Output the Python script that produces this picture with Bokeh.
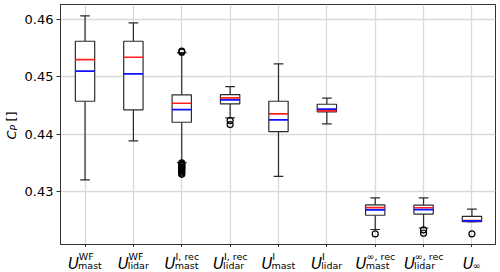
import math
from bokeh.plotting import figure
from bokeh.models import Range1d, FixedTicker
from bokeh.layouts import row, column
from bokeh.core.properties import value
from bokeh.embed import file_html
from bokeh.resources import INLINE

# ---------------- data ----------------
positions = [1, 2, 3, 4, 5, 6, 7, 8, 9]
sup_labels = ["WF", "WF", "I, rec", "I, rec", "I", "I", "∞, rec", "∞, rec", ""]
sub_labels = ["mast", "lidar", "mast", "lidar", "mast", "lidar", "mast", "lidar", "∞"]

whisker_hi = [0.46065, 0.45942, 0.45424, 0.44831, 0.45227, 0.44627, 0.42888, 0.42888, 0.42693]
q3 = [0.45621, 0.45621, 0.44686, 0.44691, 0.44574, 0.44522, 0.42766, 0.42763, 0.42567]
red_vals = [0.45302, 0.45342, 0.44539, 0.44634, 0.44354, 0.44407, 0.42719, 0.42716, 0.42492]
blue_vals = [0.45098, 0.45052, 0.44429, 0.44599, 0.44250, 0.44435, 0.42679, 0.42684, 0.42487]
q1 = [0.44574, 0.44424, 0.44208, 0.44529, 0.44045, 0.44389, 0.42585, 0.42606, 0.42475]
whisker_lo = [0.43202, 0.43883, 0.43504, 0.44284, 0.43265, 0.44180, 0.42337, 0.42363, 0.42475]

outliers = [
    [],
    [],
    [0.4543, 0.4545, 0.4350, 0.4348, 0.4347, 0.4345, 0.4343, 0.4342, 0.4340,
     0.4338, 0.4336, 0.4334, 0.4332, 0.4330],
    [0.44237, 0.44168],
    [],
    [],
    [0.42260],
    [0.42330, 0.42271],
    [0.42260],
]

y_ticks = [0.43, 0.44, 0.45, 0.46]
y_label_parts = ["C", "P", "[]"]

# ---------------- layout geometry (page pixels; Bokeh page has no body margin) ----------------
PAGE_W, PAGE_H = 500, 272
FRAME_L, FRAME_R = 57, 495
FRAME_T, FRAME_B = 4, 244
X_TICK = 3
STRIP_W = 21
MAIN_W = PAGE_W - STRIP_W
MAIN_H = FRAME_B + X_TICK
BOT_H = PAGE_H - MAIN_H
PX_PER_X = 48.7
X0 = 0.493

x_range = Range1d(X0, X0 + (FRAME_R - FRAME_L) / PX_PER_X)
y_range = Range1d(0.42075, 0.46262)

# ---------------- main figure ----------------
p = figure(width=MAIN_W, height=MAIN_H, output_backend="svg", toolbar_location=None,
           min_border_left=FRAME_L - STRIP_W, min_border_right=PAGE_W - FRAME_R,
           min_border_top=FRAME_T, min_border_bottom=X_TICK,
           x_range=x_range, y_range=y_range)

p.outline_line_color = "#333333"
p.outline_line_width = 1
p.background_fill_color = "white"
p.border_fill_color = "white"

for ax in (p.xaxis, p.yaxis):
    ax.axis_line_color = "#333333"
    ax.major_tick_line_color = "#333333"
    ax.major_tick_in = 0
    ax.minor_tick_line_color = None
p.yaxis.major_tick_out = 4
p.xaxis.major_tick_out = X_TICK

p.yaxis.ticker = FixedTicker(ticks=y_ticks)
p.yaxis.major_label_text_font = "DejaVu Sans"
p.yaxis.major_label_text_font_size = "13px"
p.yaxis.major_label_text_color = "black"
p.yaxis.major_label_standoff = 3
p.yaxis.major_label_overrides = {t: f"{t:.2f}" for t in y_ticks}

p.xaxis.ticker = FixedTicker(ticks=positions)
p.xaxis.major_label_overrides = {i: "" for i in positions}
p.xaxis.major_label_text_font_size = "0px"
p.xaxis.major_label_standoff = 0

p.grid.grid_line_color = "#d9d9d9"
p.grid.grid_line_width = 1.3
p.xgrid.ticker = FixedTicker(ticks=positions)
p.ygrid.ticker = FixedTicker(ticks=y_ticks)

box_col = "#2b2b2b"
hw = 0.2
cw = 0.1
p.segment(x0=positions, y0=q3, x1=positions, y1=whisker_hi, line_color=box_col, line_width=1.2)
p.segment(x0=positions, y0=q1, x1=positions, y1=whisker_lo, line_color=box_col, line_width=1.2)
p.segment(x0=[x - cw for x in positions], y0=whisker_hi, x1=[x + cw for x in positions],
          y1=whisker_hi, line_color=box_col, line_width=1.2)
p.segment(x0=[x - cw for x in positions], y0=whisker_lo, x1=[x + cw for x in positions],
          y1=whisker_lo, line_color=box_col, line_width=1.2)
p.quad(left=[x - hw for x in positions], right=[x + hw for x in positions], bottom=q1, top=q3,
       fill_color="white", line_color=box_col, line_width=1.2)
p.segment(x0=[x - hw for x in positions], y0=red_vals, x1=[x + hw for x in positions],
          y1=red_vals, line_color="#ff2020", line_width=1.7)
p.segment(x0=[x - hw for x in positions], y0=blue_vals, x1=[x + hw for x in positions],
          y1=blue_vals, line_color="#1010ff", line_width=1.7)

ox, oy = [], []
for x, vals in zip(positions, outliers):
    for v in vals:
        ox.append(x)
        oy.append(v)
p.scatter(ox, oy, marker="circle", size=6, fill_color=None, line_color="black", line_width=1.2)

# ---------------- bottom strip with x labels (U with super/subscripts) ----------------
b = figure(width=MAIN_W, height=BOT_H, output_backend="svg", toolbar_location=None,
           min_border_left=FRAME_L - STRIP_W, min_border_right=PAGE_W - FRAME_R,
           min_border_top=0, min_border_bottom=0,
           x_range=x_range, y_range=Range1d(0, BOT_H))
b.axis.visible = False
b.grid.visible = False
b.outline_line_color = None
b.background_fill_color = "white"
b.border_fill_color = "white"

def bx(px):
    return X0 + (px - FRAME_L) / PX_PER_X

def by(py):
    return PAGE_H - py

cw_table = {"W": 0.989, "F": 0.575, "m": 0.974, "a": 0.613, "s": 0.521, "t": 0.392,
            "l": 0.278, "i": 0.278, "d": 0.635, "r": 0.411, "I": 0.295, ",": 0.318,
            " ": 0.318, "e": 0.615, "c": 0.550, "∞": 0.833}

def tw(s, size):
    return sum(cw_table.get(ch, 0.6) for ch in s) * size

U_W = 10.7
SCR = 9.5
ux, uy, ut = [], [], []
spx, spy, spt = [], [], []
sbx, sby, sbt = [], [], []
for i, pos in enumerate(positions):
    cpx = 81.7 + PX_PER_X * (pos - 1)
    w = max(tw(sup_labels[i], SCR), tw(sub_labels[i], SCR))
    left = cpx - (U_W + w) / 2
    ux.append(bx(left)); uy.append(by(263.8)); ut.append("U")
    if sup_labels[i]:
        spx.append(bx(left + U_W + 0.3)); spy.append(by(256.3)); spt.append(sup_labels[i])
    sbx.append(bx(left + U_W - 0.5)); sby.append(by(265.3)); sbt.append(sub_labels[i])

b.text(x=ux, y=uy, text=ut, text_font=value("DejaVu Sans"), text_font_style=value("italic"),
       text_font_size=value("15px"), text_align="left", text_baseline="alphabetic",
       text_color="black")
b.text(x=spx, y=spy, text=spt, text_font=value("DejaVu Sans"), text_font_size=value("9.5px"),
       text_align="left", text_baseline="alphabetic", text_color="black")
b.text(x=sbx, y=sby, text=sbt, text_font=value("DejaVu Sans"), text_font_size=value("9.5px"),
       text_align="left", text_baseline="alphabetic", text_color="black")

# ---------------- left strip with rotated y label C_P [] ----------------
s = figure(width=STRIP_W, height=PAGE_H, output_backend="svg", toolbar_location=None,
           min_border_left=0, min_border_right=0, min_border_top=0, min_border_bottom=0,
           x_range=Range1d(0, STRIP_W), y_range=Range1d(0, PAGE_H))
s.axis.visible = False
s.grid.visible = False
s.outline_line_color = None
s.background_fill_color = "white"
s.border_fill_color = "white"

def sy(py):
    return PAGE_H - py

ang = math.pi / 2
s.text(x=[10.5], y=[sy(134.5)], text=[y_label_parts[0]], angle=ang,
       text_font=value("DejaVu Sans"), text_font_style=value("italic"),
       text_font_size=value("13px"), text_align="center", text_baseline="middle",
       text_color="black")
s.text(x=[13.5], y=[sy(127.2)], text=[y_label_parts[1]], angle=ang,
       text_font=value("DejaVu Sans"), text_font_style=value("italic"),
       text_font_size=value("9px"), text_align="center", text_baseline="middle",
       text_color="black")
s.text(x=[10.5], y=[sy(116)], text=[y_label_parts[2]], angle=ang,
       text_font=value("DejaVu Sans"), text_font_size=value("13px"), text_align="center",
       text_baseline="middle", text_color="black")

layout = row(s, column(p, b, spacing=0), spacing=0)
open("out.html", "w").write(file_html(layout, INLINE))
